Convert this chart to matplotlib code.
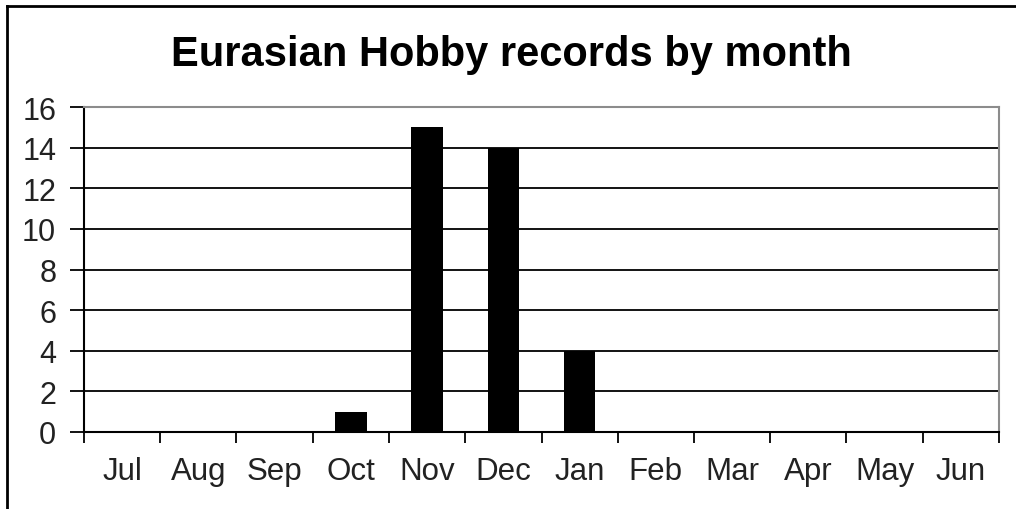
import matplotlib
matplotlib.use("Agg")
import matplotlib.pyplot as plt
from matplotlib.lines import Line2D
import numpy as np

months = ["Jul", "Aug", "Sep", "Oct", "Nov", "Dec", "Jan", "Feb", "Mar", "Apr", "May", "Jun"]
records = [0, 0, 0, 1, 15, 14, 4, 0, 0, 0, 0, 0]
yticks = [0, 2, 4, 6, 8, 10, 12, 14, 16]
title = "Eurasian Hobby records by month"

plt.rcParams['font.family'] = ['Liberation Sans', 'DejaVu Sans']

W, H = 1016, 510
fig = plt.figure(figsize=(W / 100, H / 100), dpi=100)
fig.patch.set_facecolor("white")

left, right, top, bottom = 84, 999, 108, 433
ax = fig.add_axes([left / W, 1 - bottom / H, (right - left) / W, (bottom - top) / H])

x = np.arange(len(months))
ax.bar(x, records, width=0.41, color="black", zorder=3)

ax.set_xlim(-0.5, 11.5)
ax.set_ylim(0, 16)
ax.set_yticks(yticks)
ax.set_yticklabels([str(t) for t in yticks], fontsize=22, color="#222222")
for t in yticks[1:-1]:
    ax.axhline(t, color="black", lw=1.3, zorder=1)

ax.set_xticks(x)
ax.set_xticklabels(months, fontsize=22.5, color="#222222")
ax.set_xticks(np.arange(-0.5, 12, 1), minor=True)
ax.tick_params(axis="x", which="major", length=0, pad=17)
ax.tick_params(axis="x", which="minor", length=8, width=1.3, color="black", direction="out")
ax.tick_params(axis="y", which="major", length=10, width=1.3, color="black", direction="out", pad=10)

for s in ["left", "bottom"]:
    ax.spines[s].set_color("black")
    ax.spines[s].set_linewidth(1.5)
for s in ["top", "right"]:
    ax.spines[s].set_color("#8c8c8c")
    ax.spines[s].set_linewidth(1.5)

fig.text(511 / W, 1 - 55 / H, title, ha="center", va="center",
         fontsize=30, fontweight="bold", color="black")

# outer frame (left and top)
fig.add_artist(Line2D([7 / W, 7 / W], [0, 1 - 7 / H], transform=fig.transFigure, color="black", lw=2))
fig.add_artist(Line2D([7 / W, 1], [1 - 7 / H, 1 - 7 / H], transform=fig.transFigure, color="black", lw=2))

fig.savefig("out.png", dpi=100)
